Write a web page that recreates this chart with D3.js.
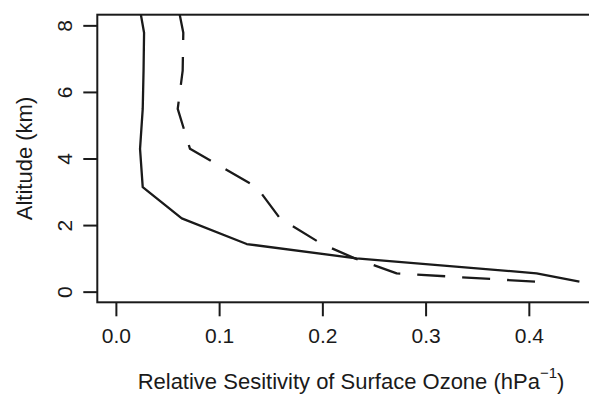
<!DOCTYPE html>
<html>
<head>
<meta charset="utf-8">
<script src="https://cdn.jsdelivr.net/npm/d3@7"></script>
<style>
  body { margin: 0; background: #fff; }
  svg { display: block; }
  text { font-family: "Liberation Sans", Arial, sans-serif; fill: #1a1a1a; }
</style>
</head>
<body>
<div id="chart"></div>
<script>
// altitude levels (km), bottom to top
const altitude = [0.30, 0.55, 1.00, 1.43, 2.20, 3.14, 4.29, 5.49, 6.64, 7.78, 8.92];
// relative sensitivity, solid curve
const solidSens = [0.449, 0.4075, 0.233, 0.1267, 0.0638, 0.026, 0.0234, 0.026, 0.0268, 0.0273, 0.0208];
// relative sensitivity, dashed curve
const dashedSens = [0.406, 0.272, 0.2315, 0.1996, 0.159, 0.1364, 0.0718, 0.0599, 0.0647, 0.0653, 0.058];

const xTicks = [0, 0.1, 0.2, 0.3, 0.4];
const yTicks = [0, 2, 4, 6, 8];

const width = 589, height = 395;
const ink = "#1a1a1a";

let svg = d3.select("#chart").append("svg")
    .attr("width", width)
    .attr("height", height);

// plot region (right edge falls outside the picture)
let box = {left: 97.3, right: 598, top: 14.7, bottom: 302.3};

let x = d3.scaleLinear()
    .domain([-0.018, 0.467])
    .range([box.left, box.right]);

let y = d3.scaleLinear()
    .domain([-0.32, 8.32])
    .range([box.bottom, box.top]);

svg.append("clipPath")
    .attr("id", "plotClip")
    .append("rect")
    .attr("x", box.left)
    .attr("y", box.top)
    .attr("width", box.right - box.left)
    .attr("height", box.bottom - box.top);

// lines
let line = d3.line()
    .x(d => x(d[0]))
    .y(d => y(d[1]));

let series = [
    {values: solidSens, dash: null},
    {values: dashedSens, dash: "28,17"}
];

svg.append("g")
    .attr("clip-path", "url(#plotClip)")
    .selectAll("path")
    .data(series)
    .enter().append("path")
    .attr("d", s => line(s.values.map((v, i) => [v, altitude[i]])))
    .attr("fill", "none")
    .attr("stroke", ink)
    .attr("stroke-width", 2.3)
    .attr("stroke-linejoin", "round")
    .attr("stroke-dasharray", s => s.dash);

// box
svg.append("rect")
    .attr("x", box.left)
    .attr("y", box.top)
    .attr("width", box.right - box.left)
    .attr("height", box.bottom - box.top)
    .attr("fill", "none")
    .attr("stroke", ink)
    .attr("stroke-width", 2);

// x axis
let xAxis = svg.append("g")
    .attr("transform", `translate(0, ${box.bottom})`)
    .call(d3.axisBottom(x).tickValues(xTicks).tickSize(14).tickFormat(d3.format(".1f")));

xAxis.select(".domain").remove();
xAxis.selectAll("line").attr("stroke", ink).attr("stroke-width", 2);
xAxis.selectAll("text")
    .attr("y", 41)
    .attr("dy", null)
    .style("font-size", "21px")
    .style("font-family", "Liberation Sans, Arial, sans-serif")
    .attr("fill", ink);

// y axis
let yAxis = svg.append("g")
    .attr("transform", `translate(${box.left}, 0)`)
    .call(d3.axisLeft(y).tickValues(yTicks).tickSize(14));

yAxis.select(".domain").remove();
yAxis.selectAll("line").attr("stroke", ink).attr("stroke-width", 2);
yAxis.selectAll("text")
    .attr("x", 0)
    .attr("dy", null)
    .attr("transform", "translate(-25.6, 0) rotate(-90)")
    .attr("text-anchor", "middle")
    .style("font-size", "21px")
    .style("font-family", "Liberation Sans, Arial, sans-serif")
    .attr("fill", ink);

// axis titles
let xTitle = svg.append("text")
    .attr("x", 351)
    .attr("y", 388.5)
    .attr("text-anchor", "middle")
    .style("font-size", "22px");

xTitle.append("tspan").text("Relative Sesitivity of Surface Ozone (hPa");
xTitle.append("tspan")
    .attr("dy", -11)
    .style("font-size", "15px")
    .text("\u22121");
xTitle.append("tspan")
    .attr("dy", 11)
    .text(")");

svg.append("text")
    .attr("transform", `translate(32, ${(box.top + box.bottom) / 2}) rotate(-90)`)
    .attr("text-anchor", "middle")
    .style("font-size", "22px")
    .text("Altitude (km)");
</script>
</body>
</html>
